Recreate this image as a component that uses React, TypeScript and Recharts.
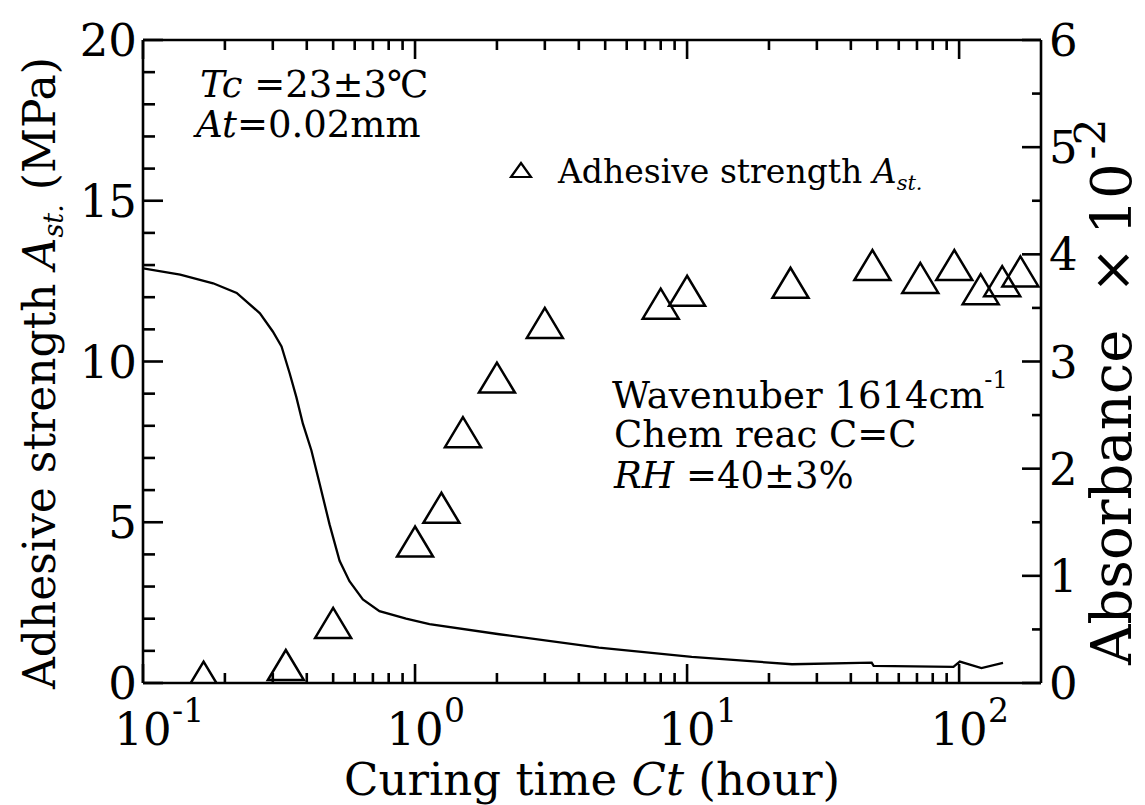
import React from "react";
import { ComposedChart, XAxis, YAxis, Scatter, Line, Legend } from "recharts";

// adhesive strength (triangles), left axis, MPa
const curingTime = [0.167, 0.335, 0.5, 1.0, 1.25, 1.5, 2.0, 3.0, 8.0, 10, 24, 48, 72, 96, 120, 144, 168];
const adhesiveStrength = [0.2, 0.56, 1.87, 4.4, 5.45, 7.8, 9.5, 11.2, 11.8, 12.2, 12.45, 13.0, 12.6, 13.0, 12.25, 12.5, 12.8];

// absorbance at 1614 cm-1 (solid line), right axis, x10^-2
const absorbanceTime = [
  0.1, 0.137, 0.181, 0.221, 0.269, 0.3, 0.323, 0.346, 0.366, 0.387, 0.416, 0.446, 0.485, 0.528,
  0.574, 0.643, 0.74, 0.927, 1.13, 2.04, 4.74, 10.4, 24.3, 47.7, 48.5, 95.3, 100.6, 120.8, 145,
];
const absorbance = [
  3.87, 3.81, 3.73, 3.64, 3.45, 3.28, 3.14, 2.89, 2.67, 2.42, 2.17, 1.86, 1.48, 1.14,
  0.95, 0.78, 0.67, 0.6, 0.55, 0.455, 0.33, 0.243, 0.175, 0.19, 0.16, 0.15, 0.2, 0.14, 0.187,
];

const xMajorTicks = [0.1, 1, 10, 100];
const xTickExponents = ["-1", "0", "1", "2"];
const xMinorTicks = [
  0.2, 0.3, 0.4, 0.5, 0.6, 0.7, 0.8, 0.9,
  2, 3, 4, 5, 6, 7, 8, 9,
  20, 30, 40, 50, 60, 70, 80, 90,
];
const leftTicks = [0, 1, 2, 3, 4, 5, 6, 7, 8, 9, 10, 11, 12, 13, 14, 15, 16, 17, 18, 19, 20];
const leftMajorTicks = [0, 5, 10, 15, 20];
const rightTicks = [0, 0.5, 1, 1.5, 2, 2.5, 3, 3.5, 4, 4.5, 5, 5.5, 6];
const rightMajorTicks = [0, 1, 2, 3, 4, 5, 6];

const strengthData = curingTime.map((t, i) => ({ t, strength: adhesiveStrength[i] }));
const absorbanceData = absorbanceTime.map((t, i) => ({ t, absorbance: absorbance[i] }));
const xTicks = [...xMajorTicks, ...xMinorTicks].sort((a, b) => a - b);

const FONT = '"DejaVu Serif", serif';
const txt = { fontFamily: FONT };
const INK = "#000";
const FRAME = 2.6;

function BottomTick(props: any) {
  const { x, y, payload } = props;
  const i = xMajorTicks.indexOf(payload.value);
  const major = i >= 0;
  return (
    <g>
      <line x1={x} x2={x} y1={y} y2={y - (major ? 19 : 10)} stroke={INK} strokeWidth={FRAME} />
      {major && (
        <g fill={INK}>
          <text x={x} y={y + 62} textAnchor="middle" fontSize={45} style={txt}>
            10
          </text>
          <text x={x + 29} y={y + 39} textAnchor="start" fontSize={33} style={txt}>
            {xTickExponents[i]}
          </text>
        </g>
      )}
    </g>
  );
}

function TopTick(props: any) {
  const { x, y, payload } = props;
  const major = xMajorTicks.includes(payload.value);
  return <line x1={x} x2={x} y1={y} y2={y + (major ? 19 : 10)} stroke={INK} strokeWidth={FRAME} />;
}

function LeftTick(props: any) {
  const { x, y, payload } = props;
  const major = leftMajorTicks.includes(payload.value);
  return (
    <g>
      <line x1={x} x2={x + (major ? 20 : 12)} y1={y} y2={y} stroke={INK} strokeWidth={FRAME} />
      {major && (
        <text x={x - 6} y={y + 16} textAnchor="end" fontSize={45} fill={INK} style={txt}>
          {payload.value}
        </text>
      )}
    </g>
  );
}

function RightTick(props: any) {
  const { x, y, payload } = props;
  const major = rightMajorTicks.includes(payload.value);
  return (
    <g>
      <line x1={x} x2={x - (major ? 19 : 9)} y1={y} y2={y} stroke={INK} strokeWidth={FRAME} />
      {major && (
        <text x={x + 8} y={y + 16} textAnchor="start" fontSize={45} fill={INK} style={txt}>
          {payload.value}
        </text>
      )}
    </g>
  );
}

function TriangleMarker(props: any) {
  const { cx, cy } = props;
  if (cx == null || cy == null) return null;
  const w = 36;
  const h = 30;
  return (
    <polygon
      points={`${cx},${cy - h / 2} ${cx - w / 2},${cy + h / 2} ${cx + w / 2},${cy + h / 2}`}
      fill="none"
      stroke={INK}
      strokeWidth={2.5}
    />
  );
}

function XTitle(props: any) {
  const { viewBox } = props;
  const cx = viewBox.x + viewBox.width / 2;
  return (
    <text x={cx} y={viewBox.y + 112} textAnchor="middle" fontSize={45} fill={INK} style={txt}>
      Curing time <tspan fontStyle="italic">Ct</tspan> (hour)
    </text>
  );
}

function LeftTitle() {
  const cx = 55;
  const cy = 373;
  return (
    <text
      x={cx}
      y={cy}
      transform={`rotate(-90, ${cx}, ${cy})`}
      textAnchor="middle"
      fontSize={44}
      fill={INK}
      style={txt}
    >
      Adhesive strength <tspan fontStyle="italic">A</tspan>
      <tspan fontStyle="italic" fontSize={27} dy={8}>
        st.
      </tspan>
      <tspan dy={-8}> (MPa)</tspan>
    </text>
  );
}

function RightTitle() {
  const cx = 1131;
  const cy = 665;
  return (
    <text
      x={cx}
      y={cy}
      transform={`rotate(-90, ${cx}, ${cy})`}
      textAnchor="start"
      fontSize={56}
      fill={INK}
      style={txt}
    >
      Absorbance
      <tspan dx={36}>×</tspan>
      <tspan dx={12}>10</tspan>
      <tspan fontSize={42} dx={4} dy={-26}>
        -2
      </tspan>
    </text>
  );
}

function LegendContent() {
  return (
    <svg width={440} height={60} style={{ display: "block" }}>
      <polygon points="21,23 11,37 31,37" fill="none" stroke={INK} strokeWidth={2.2} />
      <text x={58} y={43} fontSize={33} fill={INK} style={txt}>
        Adhesive strength <tspan fontStyle="italic">A</tspan>
        <tspan fontStyle="italic" fontSize={21} dy={7}>
          st.
        </tspan>
      </text>
    </svg>
  );
}

function Annotations() {
  return (
    <svg
      width={1145}
      height={805}
      style={{ position: "absolute", left: 0, top: 0, pointerEvents: "none" }}
    >
      <g fill={INK} fontSize={37} style={txt}>
        <text x={200} y={97}>
          <tspan fontStyle="italic">Tc</tspan> =23±3℃
        </text>
        <text x={196} y={137}>
          <tspan fontStyle="italic">At</tspan>=0.02mm
        </text>
        <text x={612} y={408}>
          Wavenuber 1614cm
          <tspan fontSize={24} dy={-20}>
            -1
          </tspan>
        </text>
        <text x={614} y={447}>
          Chem reac C=C
        </text>
        <text x={614} y={488}>
          <tspan fontStyle="italic">RH</tspan> =40±3%
        </text>
      </g>
    </svg>
  );
}

export default function App() {
  return (
    <div style={{ position: "absolute", left: 0, top: 0, width: 1145, height: 805, background: "#fff" }}>
      <ComposedChart width={1145} height={805} margin={{ top: 0, right: 0, bottom: 0, left: 0 }}>
        <XAxis
          xAxisId="bottom"
          dataKey="t"
          type="number"
          scale="log"
          domain={[0.1, 200]}
          allowDataOverflow
          ticks={xTicks}
          interval={0}
          height={122}
          tickSize={0}
          tickMargin={0}
          tickLine={false}
          axisLine={{ stroke: INK, strokeWidth: FRAME }}
          tick={BottomTick}
          label={XTitle}
        />
        <XAxis
          xAxisId="top"
          orientation="top"
          dataKey="t"
          type="number"
          scale="log"
          domain={[0.1, 200]}
          allowDataOverflow
          ticks={xTicks}
          interval={0}
          height={40}
          tickSize={0}
          tickMargin={0}
          tickLine={false}
          axisLine={{ stroke: INK, strokeWidth: FRAME }}
          tick={TopTick}
        />
        <YAxis
          yAxisId="left"
          type="number"
          domain={[0, 20]}
          allowDataOverflow
          ticks={leftTicks}
          interval={0}
          width={143}
          tickSize={0}
          tickMargin={0}
          tickLine={false}
          axisLine={{ stroke: INK, strokeWidth: FRAME }}
          tick={LeftTick}
          label={LeftTitle}
        />
        <YAxis
          yAxisId="right"
          orientation="right"
          type="number"
          domain={[0, 6]}
          allowDataOverflow
          ticks={rightTicks}
          interval={0}
          width={104}
          tickSize={0}
          tickMargin={0}
          tickLine={false}
          axisLine={{ stroke: INK, strokeWidth: FRAME }}
          tick={RightTick}
          label={RightTitle}
        />
        <Legend
          layout="vertical"
          align="center"
          verticalAlign="middle"
          content={LegendContent}
          wrapperStyle={{ left: 500, top: 140, width: 440, height: 60 }}
        />
        <Line
          xAxisId="bottom"
          yAxisId="right"
          data={absorbanceData}
          dataKey="absorbance"
          type="linear"
          dot={false}
          activeDot={false}
          stroke={INK}
          strokeWidth={2.3}
          isAnimationActive={false}
        />
        <Scatter
          xAxisId="bottom"
          yAxisId="left"
          data={strengthData}
          dataKey="strength"
          shape={TriangleMarker}
          isAnimationActive={false}
        />
      </ComposedChart>
      <Annotations />
    </div>
  );
}
